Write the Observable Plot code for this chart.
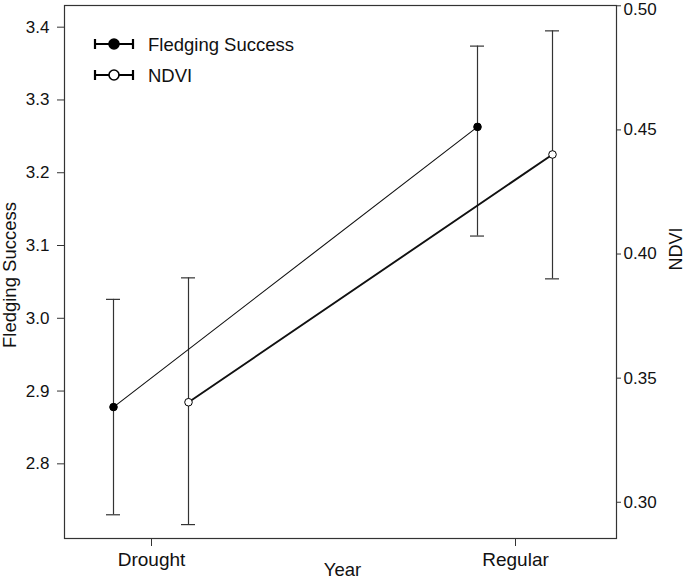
<!DOCTYPE html>
<html>
<head>
<meta charset="utf-8">
<script src="https://cdn.jsdelivr.net/npm/d3@7"></script>
<script src="https://cdn.jsdelivr.net/npm/@observablehq/plot@0.6"></script>
<style>
  html, body { margin: 0; padding: 0; background: #fff; }
  #wrap { position: relative; width: 685px; height: 580px; }
  #legend { position: absolute; left: 0; top: 0; }
</style>
</head>
<body>
<div id="wrap"></div>
<script>
const years = ["Drought", "Regular"];
const fledging = [2.878, 3.263];
const fledgingLo = [2.730, 3.113];
const fledgingHi = [3.026, 3.374];
const ndvi = [0.3403, 0.4401];
const ndviLo = [0.291, 0.390];
const ndviHi = [0.3904, 0.4899];
const fsTicks = [2.8, 2.9, 3.0, 3.1, 3.2, 3.3, 3.4];
const ndviTicks = [0.30, 0.35, 0.40, 0.45, 0.50];
const seriesNames = ["Fledging Success", "NDVI"];

// secondary axis calibration: NDVI -> Fledging Success space
const ndviToFs = d3.scaleLinear([0.30, 0.50], [2.7472, 3.4294]);

const fsData = years.map((y, i) => ({year: y, value: fledging[i], lo: fledgingLo[i], hi: fledgingHi[i]}));
const ndData = years.map((y, i) => ({year: y, value: ndviToFs(ndvi[i]), lo: ndviToFs(ndviLo[i]), hi: ndviToFs(ndviHi[i])}));

const font = "'Liberation Sans', Arial, Helvetica, sans-serif";
const fsDx = -38, ndDx = 37;

const errMarks = (data, dx) => [
  Plot.ruleX(data, {x: "year", y1: "lo", y2: "hi", dx, stroke: "#333", strokeWidth: 1.2}),
  Plot.ruleY(data, {x1: "year", x2: "year", y: "hi", dx, insetLeft: -7, insetRight: -7, stroke: "#333", strokeWidth: 1.2}),
  Plot.ruleY(data, {x1: "year", x2: "year", y: "lo", dx, insetLeft: -7, insetRight: -7, stroke: "#333", strokeWidth: 1.2})
];

const ndviFmt = d => d3.format(".2f")(ndviToFs.invert(d));
const topTick = ndviTicks[ndviTicks.length - 1];
const topFs = ndviToFs(topTick);

const chart = Plot.plot({
  width: 685,
  height: 580,
  marginLeft: 64,
  marginRight: 69,
  marginTop: 5,
  marginBottom: 42,
  style: {fontFamily: font, fontSize: "17px", color: "#111", background: "#fff"},
  x: {type: "point", domain: years, padding: 0.258, align: 0.463},
  y: {domain: [2.6974, 3.4298]},
  marks: [
    Plot.frame({stroke: "#333", strokeWidth: 1.2}),
    Plot.axisY({ticks: fsTicks, tickSize: 7, tickPadding: 8, tickFormat: d3.format(".1f"), fontSize: 17, label: null, stroke: "#333"}),
    Plot.axisY({anchor: "right", ticks: ndviTicks.map(ndviToFs), tickFormat: d => (Math.abs(d - topFs) < 1e-9 ? "" : ndviFmt(d)), tickSize: 4, tickPadding: 3, fontSize: 17, label: null, stroke: "#333"}),
    Plot.axisY({anchor: "right", ticks: [topFs], tickFormat: ndviFmt, tickSize: 0, tickPadding: 7, fontSize: 17, dy: 4, label: null, stroke: "#333"}),
    Plot.axisX({tickSize: 8, tickPadding: 6, fontSize: 19, label: null, stroke: "#333"}),
    Plot.text(["Year"], {text: d => d, frameAnchor: "bottom", dx: 2, dy: 37, lineAnchor: "bottom", textAnchor: "middle", fontSize: 18.5, fill: "#111"}),
    Plot.text(["Fledging Success"], {text: d => d, frameAnchor: "left", dx: -54, dy: 3, rotate: -90, textAnchor: "middle", fontSize: 18.5, fill: "#111"}),
    Plot.text(["NDVI"], {text: d => d, frameAnchor: "right", dx: 60, dy: -23, rotate: -90, textAnchor: "middle", fontSize: 18, fill: "#111"}),
    ...errMarks(fsData, fsDx),
    ...errMarks(ndData, ndDx),
    Plot.line(fsData, {x: "year", y: "value", dx: fsDx, stroke: "#111", strokeWidth: 1.1}),
    Plot.line(ndData, {x: "year", y: "value", dx: ndDx, stroke: "#111", strokeWidth: 1.9}),
    Plot.dot(fsData, {x: "year", y: "value", dx: fsDx, r: 3.8, fill: "#000", stroke: "#000", strokeWidth: 1}),
    Plot.dot(ndData, {x: "year", y: "value", dx: ndDx, r: 3.8, fill: "#fff", stroke: "#000", strokeWidth: 1})
  ]
});

const wrap = document.getElementById("wrap");
wrap.appendChild(chart);

// Legend overlay (inside plot frame, top-left)
const leg = d3.create("svg").attr("id", "legend").attr("width", 330).attr("height", 100)
  .style("font-family", font);
const rows = [{name: seriesNames[0], fill: "#000", y: 44}, {name: seriesNames[1], fill: "#fff", y: 75}];
for (const r of rows) {
  const g = leg.append("g");
  g.append("line").attr("x1", 95).attr("x2", 133).attr("y1", r.y).attr("y2", r.y).attr("stroke", "#000").attr("stroke-width", 2.2);
  g.append("line").attr("x1", 95).attr("x2", 95).attr("y1", r.y - 5).attr("y2", r.y + 5).attr("stroke", "#000").attr("stroke-width", 2.2);
  g.append("line").attr("x1", 133).attr("x2", 133).attr("y1", r.y - 5).attr("y2", r.y + 5).attr("stroke", "#000").attr("stroke-width", 2.2);
  g.append("circle").attr("cx", 114).attr("cy", r.y).attr("r", 5).attr("fill", r.fill).attr("stroke", "#000").attr("stroke-width", 1.6);
  g.append("text").attr("x", 148).attr("y", r.y + 6.5).attr("font-size", 18.5).attr("fill", "#111").text(r.name);
}
wrap.appendChild(leg.node());
</script>
</body>
</html>
